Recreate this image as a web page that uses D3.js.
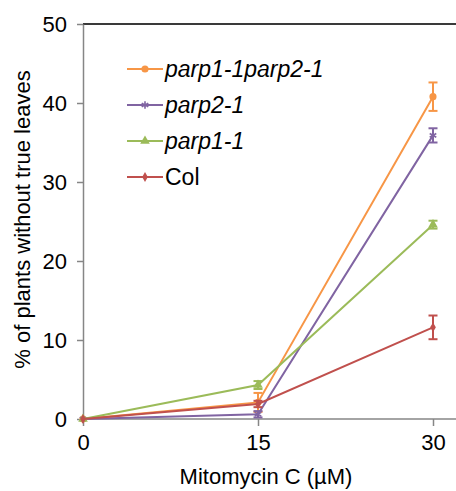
<!DOCTYPE html>
<html><head><meta charset="utf-8">
<script src="https://cdn.jsdelivr.net/npm/d3@7"></script>
<style>
html,body{margin:0;padding:0;background:#fff;}
svg{display:block;font-family:"Liberation Sans",Arial,sans-serif;}
</style></head>
<body><svg id="c" width="456" height="491"></svg>
<script>
const doses = [0, 15, 30];
const xTicks = [0, 15, 30];
const yTicks = [0, 10, 20, 30, 40, 50];
const seriesNames = ["parp1-1parp2-1", "parp2-1", "parp1-1", "Col"];
const seriesItalic = [true, true, true, false];
const seriesColors = ["#F79646", "#8064A2", "#9BBB59", "#C0504D"];
const seriesSymbols = ["circle", "asterisk", "triangle", "diamond"];
const valsDouble = [0, 2.1, 40.8];
const errDouble = [0, 1.2, 1.8];
const valsParp2 = [0, 0.6, 35.9];
const errParp2 = [0, 0.4, 0.9];
const valsParp1 = [0, 4.3, 24.6];
const errParp1 = [0, 0.5, 0.5];
const valsCol = [0, 1.9, 11.6];
const errCol = [0, 0.4, 1.5];
const seriesValues = [valsDouble, valsParp2, valsParp1, valsCol];
const seriesErrors = [errDouble, errParp2, errParp1, errCol];

const svg = d3.select("#c");
const W = 456;
const x = d3.scaleLinear().domain([0, 30]).range([83, 433]);
const y = d3.scaleLinear().domain([0, 50]).range([419, 24]);
const fs = 22;

// top border
svg.append("line").attr("x1", x(0)).attr("x2", W).attr("y1", y(50)).attr("y2", y(50))
  .attr("stroke", "#3a3a3a").attr("stroke-width", 2);

// y axis
const yAxis = svg.append("g").attr("transform", `translate(${x(0)},0)`)
  .call(d3.axisLeft(y).tickValues(yTicks).tickSize(6).tickPadding(10).tickSizeOuter(0));
yAxis.select(".domain").attr("stroke", "#868686").attr("stroke-width", 1.5);
yAxis.selectAll(".tick line").attr("stroke", "#868686").attr("stroke-width", 1.5);
yAxis.selectAll(".tick text").attr("font-size", fs).attr("fill", "#000")
  .attr("font-family", "Liberation Sans, Arial, sans-serif");

// x axis
const xAxis = svg.append("g").attr("transform", `translate(0,${y(0)})`)
  .call(d3.axisBottom(x).tickValues(xTicks).tickSize(7).tickPadding(8).tickSizeOuter(0));
xAxis.select(".domain").remove();
xAxis.append("line").attr("x1", x(0)).attr("x2", W).attr("y1", 0).attr("y2", 0)
  .attr("stroke", "#868686").attr("stroke-width", 1.5);
xAxis.selectAll(".tick line").attr("stroke", "#868686").attr("stroke-width", 1.5);
xAxis.selectAll(".tick text").attr("font-size", fs).attr("fill", "#000")
  .attr("font-family", "Liberation Sans, Arial, sans-serif");

// axis titles
svg.append("text").attr("x", (x(0) + x(30)) / 2 + 8).attr("y", 484)
  .attr("text-anchor", "middle").attr("font-size", fs).attr("fill", "#000")
  .text("Mitomycin C (\u00B5M)");
svg.append("text").attr("transform", `translate(30,${(y(0) + y(50)) / 2 - 2}) rotate(-90)`)
  .attr("text-anchor", "middle").attr("font-size", fs).attr("fill", "#000")
  .text("% of plants without true leaves");

const symMap = {
  circle: d3.symbolCircle, asterisk: d3.symbolAsterisk,
  triangle: d3.symbolTriangle, diamond: d3.symbolDiamond
};
function drawMarker(g, kind, color, cx, cy) {
  if (kind === "asterisk") {
    g.append("path").attr("d", d3.symbol(d3.symbolAsterisk, 40)())
      .attr("transform", `translate(${cx},${cy})`).attr("fill", "none")
      .attr("stroke", color).attr("stroke-width", 1.6);
  } else {
    const size = kind === "circle" ? 40 : kind === "triangle" ? 40 : 28;
    g.append("path").attr("d", d3.symbol(symMap[kind], size)())
      .attr("transform", `translate(${cx},${cy})`).attr("fill", color);
  }
}

const line = d3.line().x((d, i) => x(doses[i])).y(d => y(d));
const order = [0, 1, 2, 3];
order.forEach(s => {
  const g = svg.append("g");
  const col = seriesColors[s];
  g.append("path").datum(seriesValues[s]).attr("d", line)
    .attr("fill", "none").attr("stroke", col).attr("stroke-width", 2);
  seriesValues[s].forEach((v, i) => {
    const e = seriesErrors[s][i];
    const cx = x(doses[i]);
    if (e > 0) {
      g.append("line").attr("x1", cx).attr("x2", cx).attr("y1", y(v - e)).attr("y2", y(v + e))
        .attr("stroke", col).attr("stroke-width", 2);
      [v - e, v + e].forEach(t => g.append("line").attr("x1", cx - 4.5).attr("x2", cx + 4.5)
        .attr("y1", y(t)).attr("y2", y(t)).attr("stroke", col).attr("stroke-width", 2));
    }
    drawMarker(g, seriesSymbols[s], col, cx, y(v));
  });
});

// legend
const legY0 = 69, legDy = 36;
seriesNames.forEach((name, s) => {
  const ly = legY0 + s * legDy;
  const g = svg.append("g");
  g.append("line").attr("x1", 127).attr("x2", 163).attr("y1", ly).attr("y2", ly)
    .attr("stroke", seriesColors[s]).attr("stroke-width", 2);
  drawMarker(g, seriesSymbols[s], seriesColors[s], 145, ly);
  g.append("text").attr("x", 165).attr("y", ly + 8).attr("font-size", 23)
    .attr("font-style", seriesItalic[s] ? "italic" : "normal").attr("fill", "#000")
    .text(name);
});
</script></body></html>
